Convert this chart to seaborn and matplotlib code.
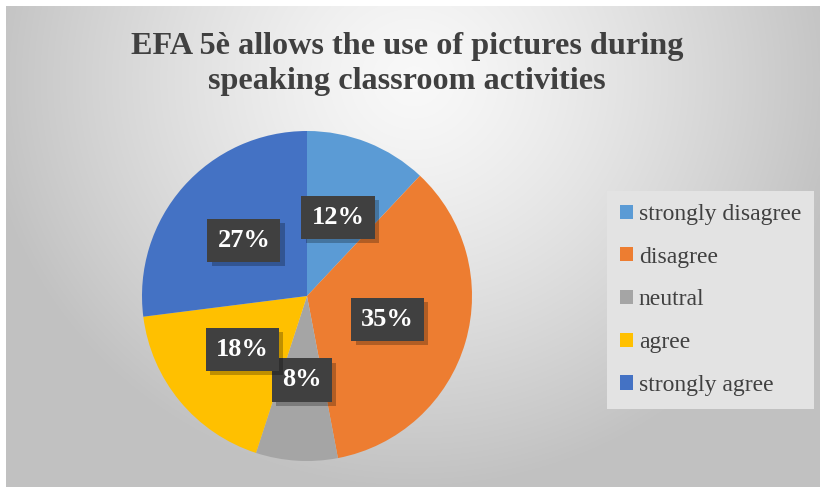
import numpy as np
import matplotlib
matplotlib.use("Agg")
import matplotlib.pyplot as plt
import matplotlib.patheffects as pe
import seaborn as sns

# Survey responses
categories = ["strongly disagree", "disagree", "neutral", "agree", "strongly agree"]
shares = [12, 35, 8, 18, 27]
slice_colors = ["#5B9BD5", "#ED7D31", "#A5A5A5", "#FFC000", "#4472C4"]
title = "EFA 5è allows the use of pictures during\nspeaking classroom activities"

sns.set_theme(style="white")
plt.rcParams["font.family"] = ["Liberation Serif", "DejaVu Serif"]

W, H = 824, 491
fig = plt.figure(figsize=(W / 100, H / 100), dpi=100)
fig.patch.set_facecolor("white")

# Radial grey backdrop of the chart area
bg = fig.add_axes([6 / W, 4 / H, (820 - 6) / W, (487 - 6) / H])
bg.set_axis_off()
yy, xx = np.mgrid[0:200, 0:340]
xn = (xx - 170) / 170.0
yn = (yy - 30) / 200.0
d = np.sqrt(xn ** 2 + (yn * 1.25) ** 2)
shade = np.clip(0.975 - 0.2 * d ** 1.3, 0.76, 1.0)
bg.imshow(np.dstack([shade] * 3), aspect="auto", extent=[0, 1, 0, 1],
          interpolation="bilinear")
bg.set_xlim(0, 1)
bg.set_ylim(0, 1)

# Pie
cx, cy, r = 307, 296, 165
ax = fig.add_axes([(cx - r) / W, (H - cy - r) / H, 2 * r / W, 2 * r / H])
ax.set_axis_off()
wedges, texts = ax.pie(
    shares, colors=slice_colors, startangle=90, counterclock=False,
    radius=1.0, labels=[f"{v}%" for v in shares], labeldistance=0.51,
    wedgeprops=dict(linewidth=0),
    textprops=dict(color="white", fontsize=19, fontweight="bold",
                   ha="center", va="center"),
)
ax.set_xlim(-1, 1)
ax.set_ylim(-1, 1)
for t in texts:
    t.set_bbox(dict(boxstyle="square,pad=0.38", facecolor="#404040",
                    edgecolor="none"))
    t.get_bbox_patch().set_path_effects(
        [pe.SimplePatchShadow(offset=(3, -3), shadow_rgbFace="black", alpha=0.25),
         pe.Normal()])

# Title
fig.text(407 / W, 1 - 64 / H, title, ha="center", va="center",
         fontsize=23.2, fontweight="bold", color="#404040", linespacing=1.3)

# Legend
leg = fig.legend(wedges, categories, loc="upper left",
                 bbox_to_anchor=(607 / W, 1 - 191 / H),
                 frameon=True, fontsize=17, handlelength=0.55, handleheight=0.55,
                 handletextpad=0.25, labelspacing=0.92, borderpad=0.55,
                 borderaxespad=0)
frame = leg.get_frame()
frame.set_facecolor("#e3e3e3")
frame.set_edgecolor("none")
frame.set_alpha(1)
frame.set_boxstyle("square", pad=0)
for txt in leg.get_texts():
    txt.set_color("#404040")

fig.savefig("out.png", dpi=100, facecolor="white")
